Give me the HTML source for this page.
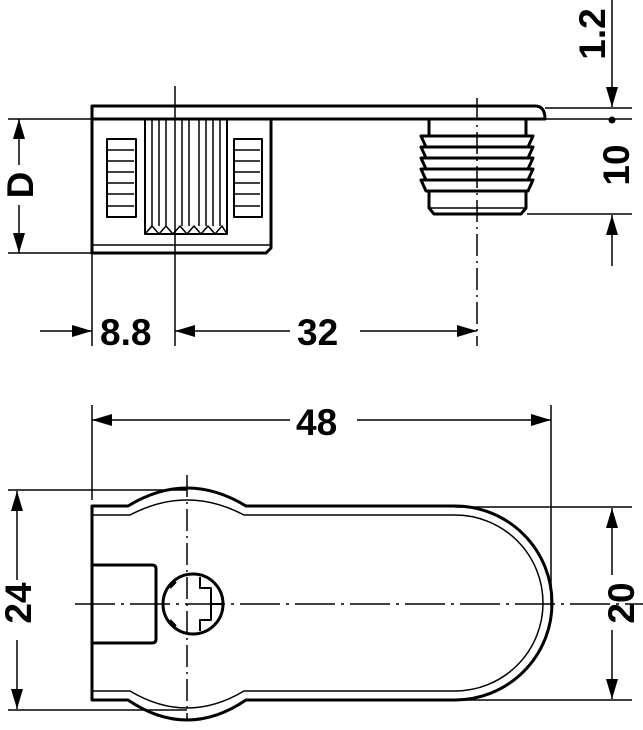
<!DOCTYPE html>
<html><head><meta charset="utf-8"><style>
html,body{margin:0;padding:0;background:#fff;}
svg{display:block;}
text{font-family:"Liberation Sans",sans-serif;font-weight:bold;font-size:37px;fill:#000;}
</style></head><body>
<svg width="643" height="730" viewBox="0 0 643 730" xmlns="http://www.w3.org/2000/svg">
<defs>
<marker id="a" markerWidth="20" markerHeight="12" refX="20" refY="6" orient="auto" markerUnits="userSpaceOnUse">
<path d="M0,0 L20,6 L0,12 Z" fill="#000"/></marker>
</defs>
<g fill="none" stroke="#000" stroke-width="3" stroke-linejoin="round">
<path d="M92,106 H535 Q545,106 545,119 H92 Z"/>
<path d="M92,106 V253 H266 L271,248 V119"/>
<line x1="92" y1="245" x2="271" y2="245" stroke-width="1.5"/>
<rect x="145" y="119" width="82" height="115" stroke-width="2"/>
<g stroke-width="1.5">
<line x1="152" y1="119" x2="152" y2="226"/><line x1="159" y1="119" x2="159" y2="226"/>
<line x1="166" y1="119" x2="166" y2="226"/><line x1="182" y1="119" x2="182" y2="226"/>
<line x1="189" y1="119" x2="189" y2="226"/><line x1="199" y1="119" x2="199" y2="226"/>
<line x1="206" y1="119" x2="206" y2="226"/><line x1="213" y1="119" x2="213" y2="226"/>
<line x1="220" y1="119" x2="220" y2="226"/>
<path d="M145,234 L152,226 L159,234 L166,226 L173,234 L180,226 L187,234 L194,226 L201,234 L208,226 L215,234 L222,226 L227,234"/>
</g>
<g stroke-width="2">
<rect x="107" y="139" width="29" height="78"/>
<rect x="234" y="139" width="28" height="78"/>
</g>
<g stroke-width="1.5">
<path d="M107,150 H134 M107,161 H134 M107,172 H134 M107,183 H134 M107,194 H134 M107,206 H134"/>
<path d="M234,150 H260 M234,161 H260 M234,172 H260 M234,183 H260 M234,194 H260 M234,206 H260"/>
</g>
<path d="M429,119 V136 M526,119 V136"/>
<path d="M421,136 H533 L528,147 H426 Z"/>
<path d="M421,147 H533 L528,158 H426 Z"/>
<path d="M421,158 H533 L528,169 H426 Z"/>
<path d="M421,169 H533 L528,180 H426 Z"/>
<path d="M421,180 H533 L528,191 H426 Z"/>
<path d="M429,191 V208 L434,214 H521 L526,208 V191"/>
<line x1="429" y1="208" x2="526" y2="208" stroke-width="1.5"/>
</g>
<g stroke="#000" stroke-width="1.5" fill="none">
<line x1="175" y1="86" x2="175" y2="346"/>
<line x1="477" y1="98" x2="477" y2="346" stroke-dasharray="22,5,2,5"/>
<line x1="92" y1="253" x2="92" y2="346"/>
<line x1="8" y1="119" x2="92" y2="119"/>
<line x1="8" y1="253" x2="92" y2="253"/>
<line x1="19" y1="165" x2="19" y2="119" marker-end="url(#a)"/>
<line x1="19" y1="205" x2="19" y2="253" marker-end="url(#a)"/>
<line x1="40" y1="331" x2="92" y2="331" marker-end="url(#a)"/>
<line x1="290" y1="331" x2="175" y2="331" marker-end="url(#a)"/>
<line x1="360" y1="331" x2="477" y2="331" marker-end="url(#a)"/>
<line x1="545" y1="108" x2="632" y2="108"/>
<line x1="527" y1="119" x2="632" y2="119"/>
<line x1="527" y1="214" x2="632" y2="214"/>
<line x1="612" y1="0" x2="612" y2="107" marker-end="url(#a)"/>
<line x1="612" y1="266" x2="612" y2="215" marker-end="url(#a)"/>
</g>
<circle cx="612" cy="120" r="3.5" fill="#000"/>
<text x="100" y="345">8.8</text>
<text x="297" y="345">32</text>
<text transform="translate(33,185) rotate(-90)" text-anchor="middle">D</text>
<text transform="translate(605,34) rotate(-90)" text-anchor="middle">1.2</text>
<text transform="translate(629,165) rotate(-90)" text-anchor="middle">10</text>

<g stroke="#000" stroke-width="1.5" fill="none">
<line x1="92" y1="405" x2="92" y2="500"/>
<line x1="551" y1="405" x2="551" y2="606"/>
<line x1="290" y1="420" x2="92" y2="420" marker-end="url(#a)"/>
<line x1="357" y1="420" x2="551" y2="420" marker-end="url(#a)"/>
<line x1="8" y1="490" x2="187" y2="490"/>
<line x1="8" y1="710" x2="187" y2="710"/>
<line x1="17" y1="580" x2="17" y2="491" marker-end="url(#a)"/>
<line x1="17" y1="640" x2="17" y2="709" marker-end="url(#a)"/>
<line x1="455" y1="507" x2="632" y2="507"/>
<line x1="455" y1="700" x2="632" y2="700"/>
<line x1="612" y1="575" x2="612" y2="508" marker-end="url(#a)"/>
<line x1="612" y1="630" x2="612" y2="699" marker-end="url(#a)"/>
<line x1="187" y1="475" x2="187" y2="720" stroke-dasharray="22,5,2,5"/>
<line x1="75" y1="604" x2="643" y2="604" stroke-dasharray="40,6,3,6"/>
</g>
<text x="296" y="435">48</text>
<text transform="translate(31,603) rotate(-90)" text-anchor="middle">24</text>
<text transform="translate(634,603) rotate(-90)" text-anchor="middle">20</text>
<g fill="none" stroke="#000" stroke-width="3" stroke-linejoin="round">
<path d="M92,506 H128 Q187,470 246,506 H455 A97,97 0 0 1 455,700 H246 Q187,740 128,700 H92 Z"/>
<path d="M92,515 H130 Q187,485 244,515 H455 A88,88 0 0 1 455,691 H244 Q187,725 130,691 H92" stroke-width="1.5"/>
<path d="M92,565 H152 Q156,565 156,569 V639 Q156,643 152,643 H92"/>
<circle cx="193" cy="604" r="30"/>
<g stroke-width="2">
<path d="M200,577 V588 H211 V620 H200 V631"/>
<path d="M170,588 L176,582 M170,620 L176,626"/>
<line x1="211" y1="604" x2="222" y2="604"/>
</g>
</g>
</svg>
</body></html>
